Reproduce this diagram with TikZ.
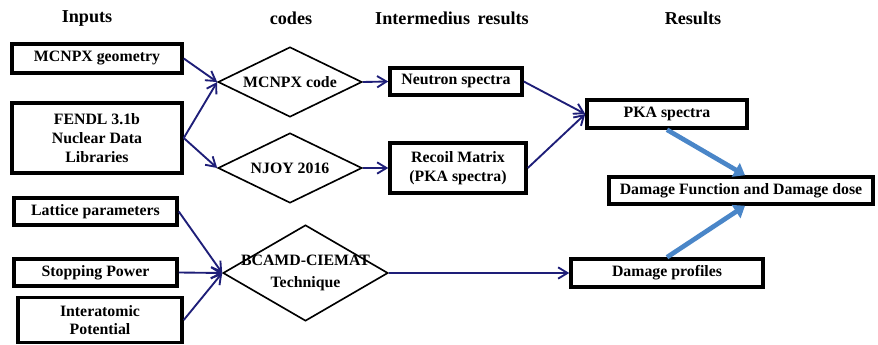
\documentclass[tikz,border=0pt]{standalone}
\usepackage{fontspec}
\setmainfont{Liberation Serif}
\usepackage{tikz}
\usetikzlibrary{arrows.meta,positioning,shapes.geometric,calc}
\definecolor{flownavy}{HTML}{1E1E78}
\definecolor{flowblue}{HTML}{4A86C8}
\tikzset{
  fc/head/.style={font=\fontsize{15.5}{18}\selectfont\bfseries, inner sep=0pt},
  fc/box/.style={draw, line width=3pt, align=center, inner sep=1pt,
    font=\fontsize{13.5}{16}\selectfont\bfseries},
  fc/code/.style={draw, diamond, line width=1.4pt, inner sep=0pt,
    label={[align=center, font=\fontsize{13.5}{19}\selectfont\bfseries]center:#1}},
  fc/arr/.style={draw=flownavy, line width=1.6pt, -{Straight Barb[length=2.8mm,width=3.4mm]}},
  fc/bigarr/.style={draw=flowblue, line width=4pt, -{Triangle[length=3.2mm,width=4.6mm]}}
}

\begin{document}
\begin{tikzpicture}[x=0.03cm, y=-0.03cm]
  \useasboundingbox (0,0) rectangle (878,345);

  % column headers
  \node[fc/head] (hin) at (87,18) {Inputs};
  \node[fc/head] (hcode) at (291,18) {codes};
  \node[fc/head] (hmid) at (452,18) {Intermedius\, results};
  \node[fc/head] (hres) at (693,18) {Results};

  % inputs
  \node[fc/box, minimum width=5.1cm, minimum height=0.87cm] (geom) at (97,58.5) {MCNPX geometry};
  \node[fc/box, minimum width=5.1cm, minimum height=2.1cm] (fendl) at (97,138) {FENDL 3.1b\\Nuclear Data\\Libraries};
  \node[fc/box, minimum width=4.89cm, minimum height=0.81cm] (latt) at (95.5,211.5) {Lattice parameters};
  \node[fc/box, minimum width=4.89cm, minimum height=0.81cm] (stop) at (95.5,272.5) {Stopping Power};
  \node[fc/box, minimum width=4.92cm, minimum height=1.35cm] (pot) at (100,320) {Interatomic\\Potential};

  % codes
  \node[fc/code={MCNPX code}, minimum width=4.32cm, minimum height=2.1cm] (mcnpx) at (290,82) {};
  \node[fc/code={NJOY 2016}, minimum width=4.32cm, minimum height=2.1cm] (njoy) at (290,168) {};
  \node[fc/code={BCAMD-CIEMAT\\Technique}, minimum width=4.95cm, minimum height=2.88cm] (bcamd) at (305.5,273) {};

  % intermediate and final results
  \node[fc/box, minimum width=3.96cm, minimum height=0.81cm] (neut) at (456,81.5) {Neutron spectra};
  \node[fc/box, minimum width=4.08cm, minimum height=1.5cm] (recoil) at (458,168) {Recoil Matrix\\(PKA spectra)};
  \node[fc/box, minimum width=4.8cm, minimum height=0.84cm] (pka) at (667,114) {PKA spectra};
  \node[fc/box, minimum width=7.92cm, minimum height=0.81cm] (dmg) at (741,190.5) {Damage Function and Damage dose};
  \node[fc/box, minimum width=5.76cm, minimum height=0.84cm] (prof) at (667,273) {Damage profiles};

  \draw[fc/arr] (geom.east) -- (mcnpx.west);
  \draw[fc/arr] (fendl.east) -- (mcnpx.west);
  \draw[fc/arr] (fendl.east) -- (njoy.west);
  \draw[fc/arr] (mcnpx.east) -- (neut.west);
  \draw[fc/arr] (njoy.east) -- (recoil.west);
  \draw[fc/arr] (neut.east) -- (pka.west);
  \draw[fc/arr] (recoil.east) -- (pka.west);
  \draw[fc/arr] (latt.east) -- (bcamd.west);
  \draw[fc/arr] (stop.east) -- (bcamd.west);
  \draw[fc/arr] (pot.east) -- (bcamd.west);
  \draw[fc/arr] (bcamd.east) -- (prof.west);

  \draw[fc/bigarr] (pka.south) -- ($(dmg.north)+(4,0)$);
  \draw[fc/bigarr] (prof.north) -- ($(dmg.south)+(4,0)$);
\end{tikzpicture}
\end{document}
